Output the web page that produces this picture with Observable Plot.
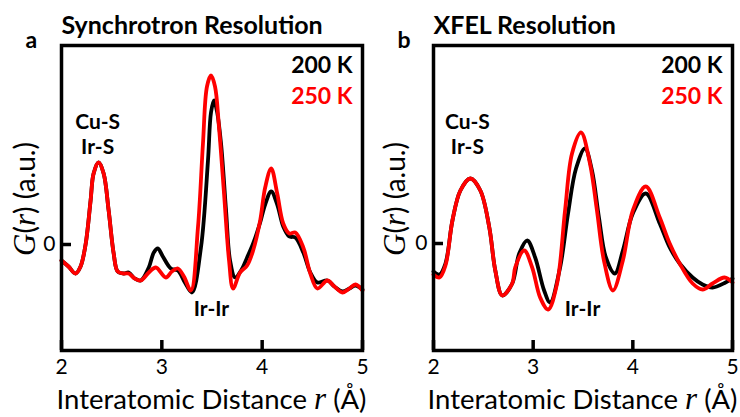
<!DOCTYPE html>
<html>
<head>
<meta charset="utf-8">
<script src="https://cdn.jsdelivr.net/npm/d3@7"></script>
<script src="https://cdn.jsdelivr.net/npm/@observablehq/plot@0.6"></script>
<style>
  html, body { margin: 0; padding: 0; background: #fff; }
  #wrap { display: flex; width: 740px; height: 417px; }
  #wrap svg { display: block; }
</style>
</head>
<body>
<div id="wrap"></div>
<script>
// ---------- data ----------
const xTicks = [2, 3, 4, 5];
const yTicks = [0];
const seriesNames = ["200 K", "250 K"];
const seriesColors = ["#000000", "#ff0000"];
const panelTitles = ["Synchrotron Resolution", "XFEL Resolution"];
const panelLetters = ["a", "b"];

// Panel a – Synchrotron resolution
const synR200 = [2.00,2.07,2.14,2.19,2.24,2.29,2.32,2.37,2.42,2.47,2.52,2.56,2.62,2.67,2.73,2.79,2.87,2.92,2.96,3.01,3.09,3.16,3.23,3.30,3.39,3.46,3.49,3.52,3.55,3.59,3.64,3.68,3.73,3.79,3.85,3.91,3.98,4.03,4.09,4.15,4.21,4.27,4.33,4.41,4.48,4.55,4.65,4.72,4.80,4.87,4.93,5.00];
const synG200 = [-0.16,-0.22,-0.29,-0.22,0.00,0.44,0.71,0.82,0.71,0.34,-0.09,-0.27,-0.29,-0.28,-0.34,-0.36,-0.23,-0.08,-0.04,-0.12,-0.24,-0.26,-0.38,-0.48,-0.03,0.84,1.32,1.44,1.33,1.01,0.34,-0.16,-0.33,-0.26,-0.13,0.01,0.22,0.40,0.53,0.40,0.18,0.08,0.07,-0.08,-0.28,-0.38,-0.36,-0.42,-0.47,-0.44,-0.41,-0.45];
const synR250 = [2.00,2.07,2.14,2.19,2.24,2.29,2.32,2.37,2.42,2.47,2.52,2.56,2.62,2.67,2.73,2.79,2.87,2.94,3.04,3.10,3.16,3.22,3.29,3.36,3.41,3.45,3.49,3.53,3.57,3.62,3.67,3.71,3.78,3.85,3.91,3.98,4.03,4.09,4.15,4.21,4.27,4.33,4.41,4.48,4.55,4.65,4.72,4.80,4.87,4.93,5.00];
const synG250 = [-0.16,-0.22,-0.29,-0.22,0.00,0.44,0.71,0.82,0.71,0.34,-0.09,-0.27,-0.29,-0.29,-0.34,-0.36,-0.28,-0.23,-0.33,-0.27,-0.24,-0.32,-0.46,0.17,1.01,1.58,1.69,1.58,1.17,0.51,-0.16,-0.44,-0.28,-0.21,-0.06,0.24,0.57,0.76,0.51,0.21,0.11,0.12,-0.03,-0.29,-0.44,-0.36,-0.42,-0.48,-0.44,-0.40,-0.46];

// Panel b – XFEL resolution
const xfR200 = [2.00,2.06,2.12,2.19,2.27,2.37,2.47,2.56,2.62,2.69,2.79,2.86,2.94,3.02,3.11,3.17,3.27,3.35,3.43,3.52,3.59,3.66,3.73,3.82,3.90,4.00,4.13,4.27,4.37,4.47,4.60,4.70,4.80,4.93,5.00];
const xfG200 = [-0.28,-0.31,-0.20,0.23,0.53,0.65,0.53,0.16,-0.27,-0.52,-0.40,-0.10,0.03,-0.14,-0.47,-0.59,-0.24,0.30,0.75,0.95,0.73,0.26,-0.14,-0.30,-0.07,0.30,0.50,0.20,-0.04,-0.20,-0.34,-0.41,-0.44,-0.39,-0.35];
const xfR250 = [2.00,2.06,2.12,2.19,2.27,2.37,2.47,2.56,2.62,2.69,2.79,2.82,2.91,2.99,3.07,3.15,3.24,3.32,3.39,3.48,3.57,3.64,3.71,3.80,3.90,4.00,4.13,4.27,4.37,4.47,4.60,4.70,4.80,4.92,5.00];
const xfG250 = [-0.31,-0.34,-0.22,0.23,0.53,0.65,0.53,0.16,-0.27,-0.52,-0.40,-0.24,-0.07,-0.24,-0.54,-0.66,-0.40,0.33,0.90,1.11,0.80,0.33,-0.17,-0.47,-0.17,0.33,0.57,0.26,0.00,-0.20,-0.40,-0.46,-0.40,-0.34,-0.39];

// annotation anchors (data coords)
const annotA = [{r: 2.36, g: 0.91, t: "Cu-S\nIr-S"}, {r: 3.495, g: -0.71, t: "Ir-Ir"}];
const annotB = [{r: 2.34, g: 0.90, t: "Cu-S\nIr-S"}, {r: 3.495, g: -0.72, t: "Ir-Ir"}];

const zip = (rs, gs) => rs.map((r, i) => ({r, g: gs[i]}));

function panel({s200, s250, annot, title, letter, marginLeft, yDomain}) {
  const W = 370, H = 417, mr = 8, mt = 45, mb = 67;
  const frameW = W - mr - marginLeft, frameH = H - mt - mb;
  const xDomain = [2, 5];
  // inward tick lengths (about 10 px) expressed through the scales' spans
  const xTickLen = 10 * (yDomain[1] - yDomain[0]) / frameH;
  const yTickLen = 10 * (xDomain[1] - xDomain[0]) / frameW;
  const fig = Plot.plot({
    width: W,
    height: H,
    marginLeft,
    marginRight: mr,
    marginTop: mt,
    marginBottom: mb,
    style: {fontFamily: "Lato, sans-serif", background: "transparent", color: "#000", overflow: "visible"},
    x: {domain: xDomain},
    y: {domain: yDomain},
    marks: [
      Plot.line(s200, {x: "r", y: "g", stroke: seriesColors[0], strokeWidth: 3.8, curve: "catmull-rom"}),
      Plot.line(s250, {x: "r", y: "g", stroke: seriesColors[1], strokeWidth: 3.8, curve: "catmull-rom"}),
      Plot.frame({stroke: "#000", strokeWidth: 3.5}),
      Plot.ruleX(xTicks, {x: d => d, y1: yDomain[0], y2: yDomain[0] + xTickLen, stroke: "#000", strokeWidth: 3.5}),
      Plot.ruleY(yTicks, {y: d => d, x1: xDomain[0], x2: xDomain[0] + yTickLen, stroke: "#000", strokeWidth: 3.5}),
      Plot.axisX({ticks: xTicks, tickSize: 0, tickPadding: 9, fontSize: 21, label: null, tickFormat: d => String(d)}),
      Plot.axisY({ticks: yTicks, tickSize: 0, tickPadding: 6, fontSize: 21, label: null, tickFormat: d => String(d)}),
      Plot.text(annot, {x: "r", y: "g", text: "t", fontSize: 21, fontWeight: "bold", lineAnchor: "bottom", lineHeight: 1.19, textAnchor: "middle", fill: "#000"}),
      Plot.text([seriesNames[0]], {frameAnchor: "top-right", dx: -10, dy: 27, lineAnchor: "bottom", textAnchor: "end", fontSize: 23, fontWeight: "bold", fill: seriesColors[0]}),
      Plot.text([seriesNames[1]], {frameAnchor: "top-right", dx: -10, dy: 58, lineAnchor: "bottom", textAnchor: "end", fontSize: 23, fontWeight: "bold", fill: seriesColors[1]}),
      Plot.text([title], {frameAnchor: "top-left", dx: 0, dy: -12, lineAnchor: "bottom", textAnchor: "start", fontSize: 25, fontWeight: "bold", fill: "#000"}),
      Plot.text([letter], {frameAnchor: "top-left", dx: -36, dy: 2, lineAnchor: "bottom", textAnchor: "start", fontSize: 23, fontWeight: "bold", fill: "#000"})
    ]
  });
  const svg = d3.select(fig);
  const cx = marginLeft + frameW / 2;
  // y-axis label: G(r) (a.u.)
  const yl = svg.append("text")
    .attr("transform", `translate(35,199) rotate(-90)`)
    .attr("text-anchor", "middle")
    .attr("font-family", "Lato, sans-serif")
    .attr("font-size", 28)
    .attr("fill", "#000");
  yl.append("tspan").attr("font-family", "Liberation Serif, serif").attr("font-style", "italic").attr("font-size", 31).text("G");
  yl.append("tspan").text("(");
  yl.append("tspan").attr("font-family", "Liberation Serif, serif").attr("font-style", "italic").attr("font-size", 31).text("r");
  yl.append("tspan").text(") (a.u.)");
  // x-axis label
  const xl = svg.append("text")
    .attr("x", cx).attr("y", 409)
    .attr("text-anchor", "middle")
    .attr("font-family", "Lato, sans-serif")
    .attr("font-size", 27.5)
    .attr("fill", "#000");
  xl.append("tspan").text("Interatomic Distance ");
  xl.append("tspan").attr("font-family", "Liberation Serif, serif").attr("font-style", "italic").attr("font-size", 31).text("r");
  xl.append("tspan").text(" (Å)");
  return fig;
}

const wrap = document.getElementById("wrap");
wrap.append(panel({s200: zip(synR200, synG200), s250: zip(synR250, synG250), annot: annotA, title: panelTitles[0], letter: panelLetters[0], marginLeft: 61, yDomain: [-1.06, 1.99]}));
wrap.append(panel({s200: zip(xfR200, xfG200), s250: zip(xfR250, xfG250), annot: annotB, title: panelTitles[1], letter: panelLetters[1], marginLeft: 63, yDomain: [-1.07, 1.98]}));
</script>
</body>
</html>
